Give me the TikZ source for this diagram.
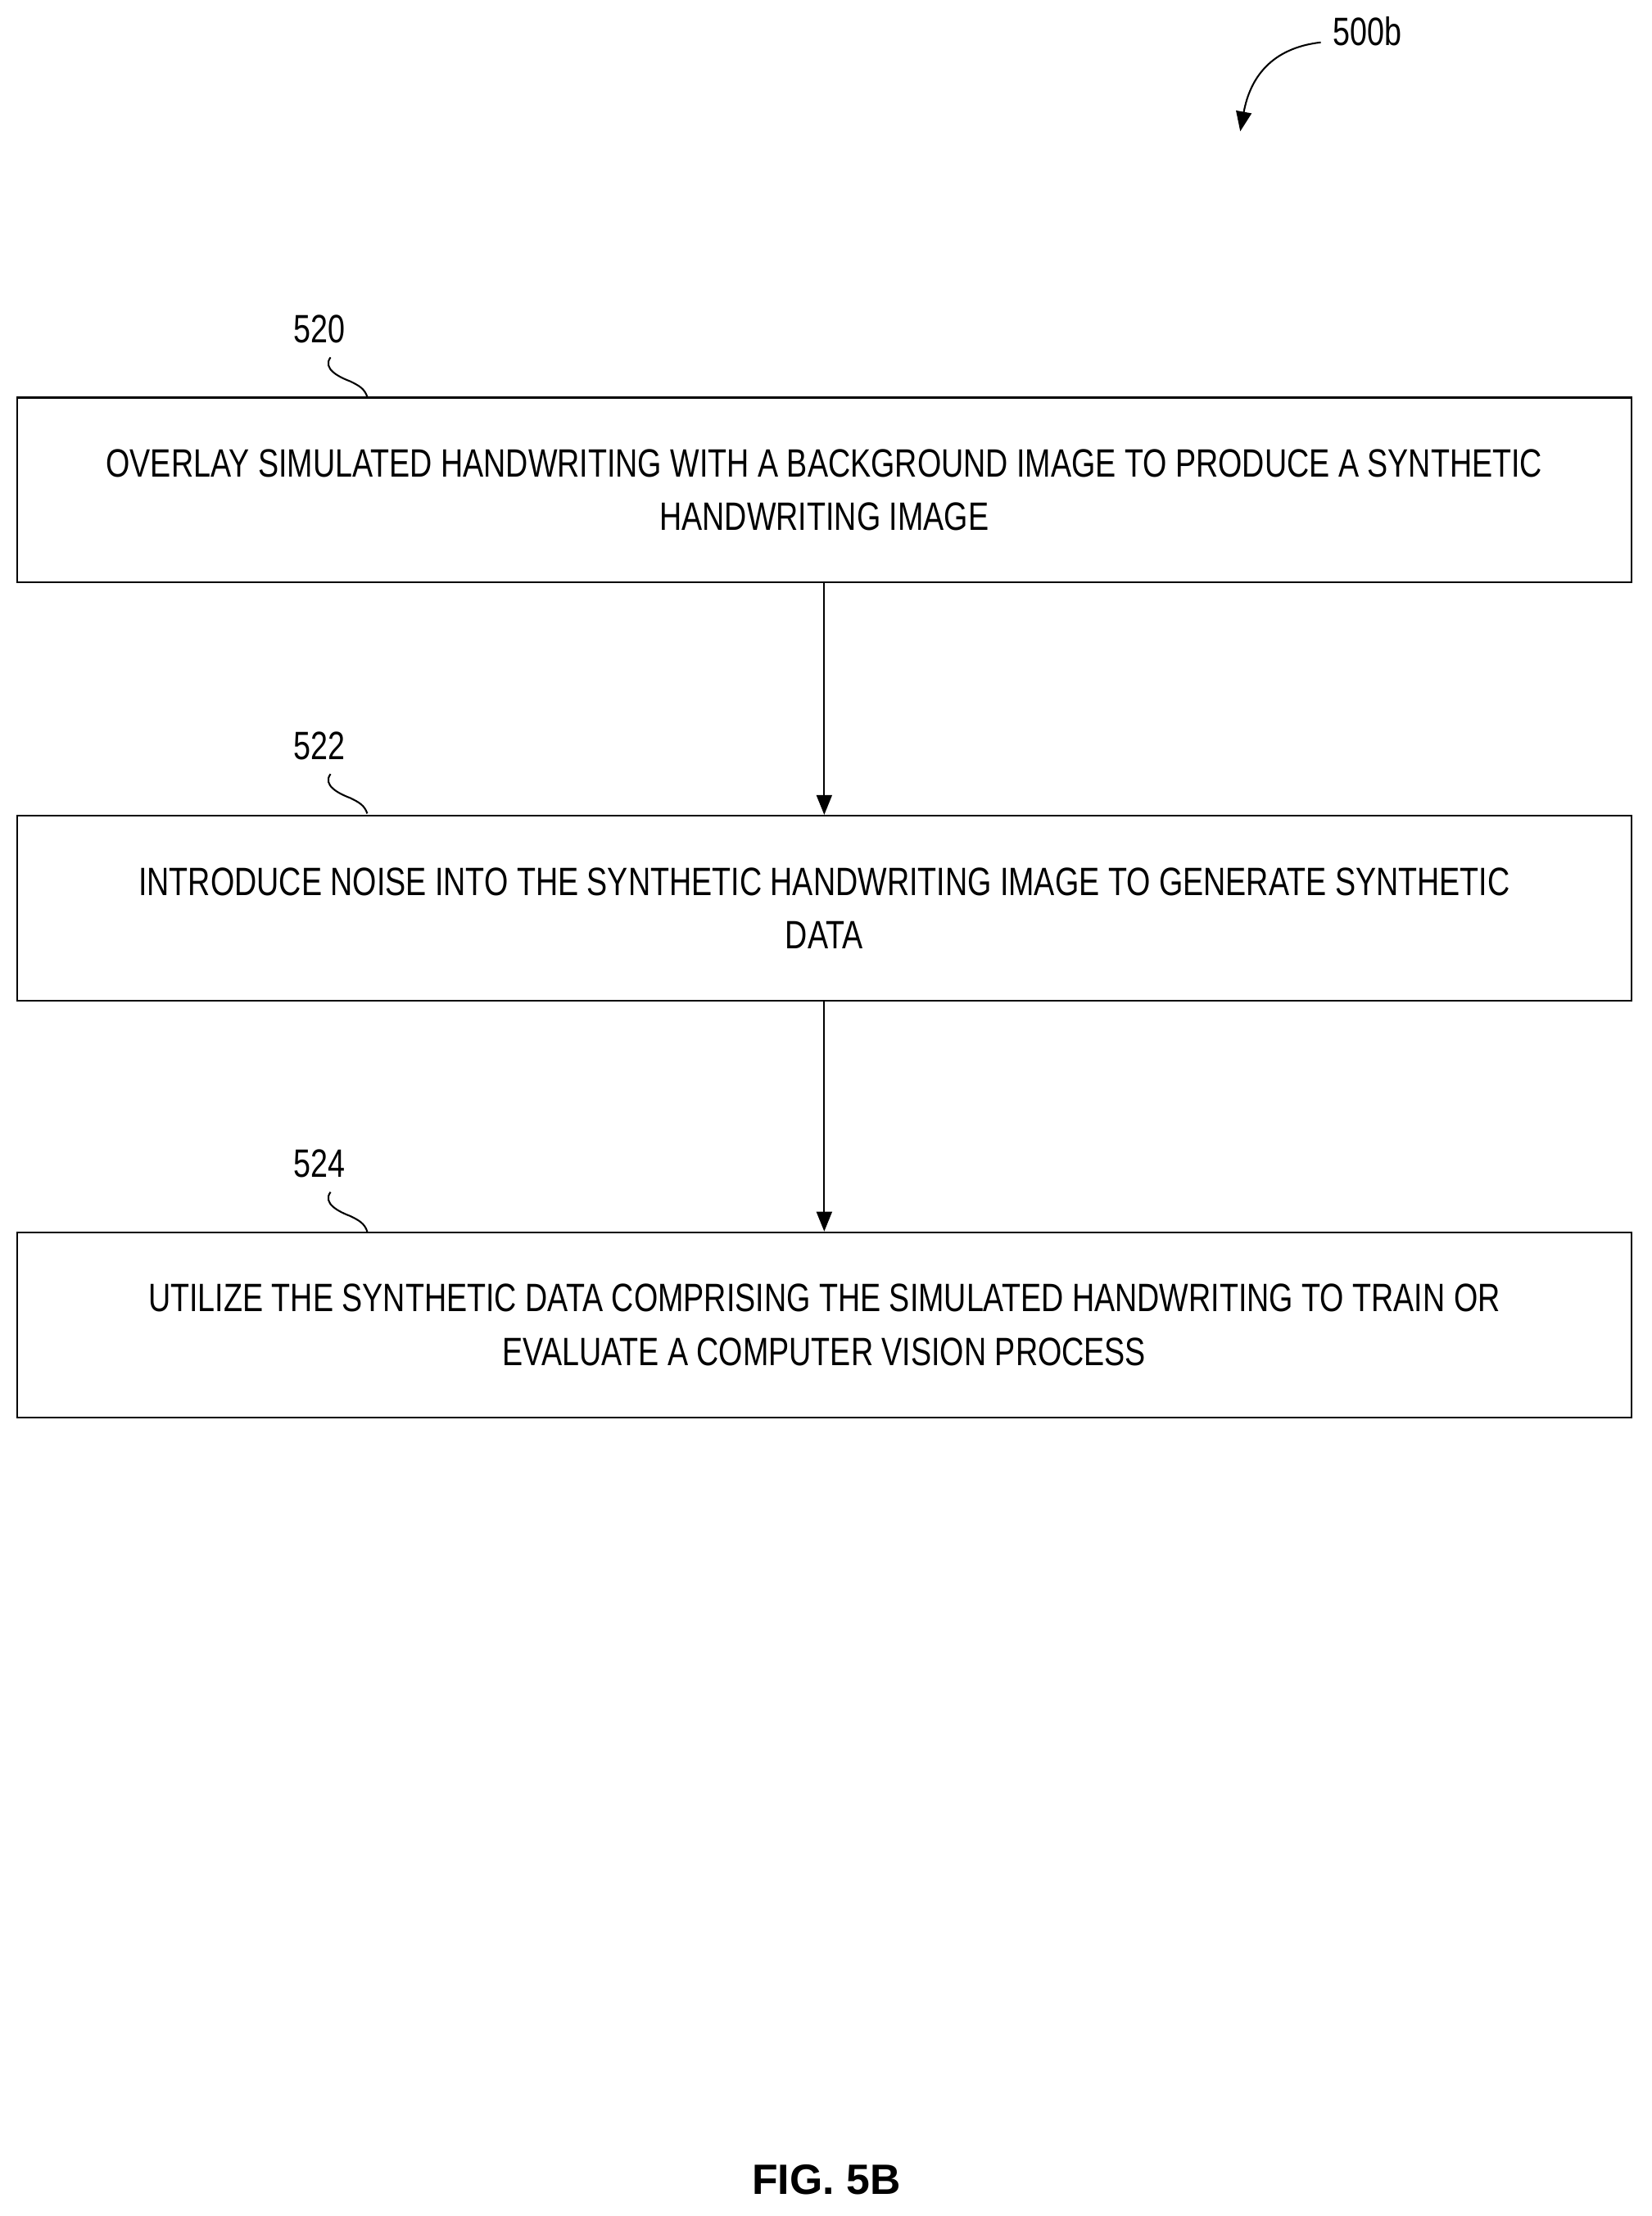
\documentclass[tikz,border=0pt]{standalone}
\usepackage{fontspec}
\setmainfont[FakeStretch=0.78]{Liberation Sans}
\newfontfamily\figfont{Liberation Sans}
\usetikzlibrary{arrows.meta,positioning}
\tikzset{
	step box/.style={draw,line width=1.2pt,minimum width=1143pt,minimum height=131pt,
		align=center,font=\fontsize{28}{38}\selectfont,inner sep=0pt},
	ref num/.style={font=\fontsize{28}{30}\selectfont,inner sep=0pt},
	flow/.style={line width=1.2pt,-{Triangle[length=14pt,width=11pt]}},
	squig/.style={line width=1.2pt}
}
\begin{document}
\begin{tikzpicture}[x=1pt,y=-1pt]
    \useasboundingbox (0,0) rectangle (1169,1569);
    \node[step box] (s520) at (583.5,347) {OVERLAY SIMULATED HANDWRITING WITH A BACKGROUND IMAGE TO PRODUCE A SYNTHETIC\\HANDWRITING IMAGE};
    \node[step box] (s522) at (583.5,643) {INTRODUCE NOISE INTO THE SYNTHETIC HANDWRITING IMAGE TO GENERATE SYNTHETIC\\DATA};
    \node[step box] (s524) at (583.5,938) {UTILIZE THE SYNTHETIC DATA COMPRISING THE SIMULATED HANDWRITING TO TRAIN OR\\EVALUATE A COMPUTER VISION PROCESS};
    \draw[flow] (s520) -- (s522);
    \draw[flow] (s522) -- (s524);
    % reference numerals
    \foreach \n/\y in {520/233,522/528,524/824} {
      \node[ref num] (l\n) at (226,\y) {\n};
      \draw[squig] (234,\y+20) .. controls (228,\y+28) and (240,\y+34) .. (248,\y+37)
        .. controls (254,\y+40) and (258,\y+42) .. (260,\y+48);
    }
    \node[ref num] (l500b) at (968,22) {500b};
    \coordinate (tip) at (878,93);
    \draw[flow] (935,30) .. controls (900,34) and (885,55) .. (tip);
    \node[font=\figfont\bfseries\fontsize{30}{32}\selectfont] (fig) at (585,1543) {FIG. 5B};
\end{tikzpicture}
\end{document}
